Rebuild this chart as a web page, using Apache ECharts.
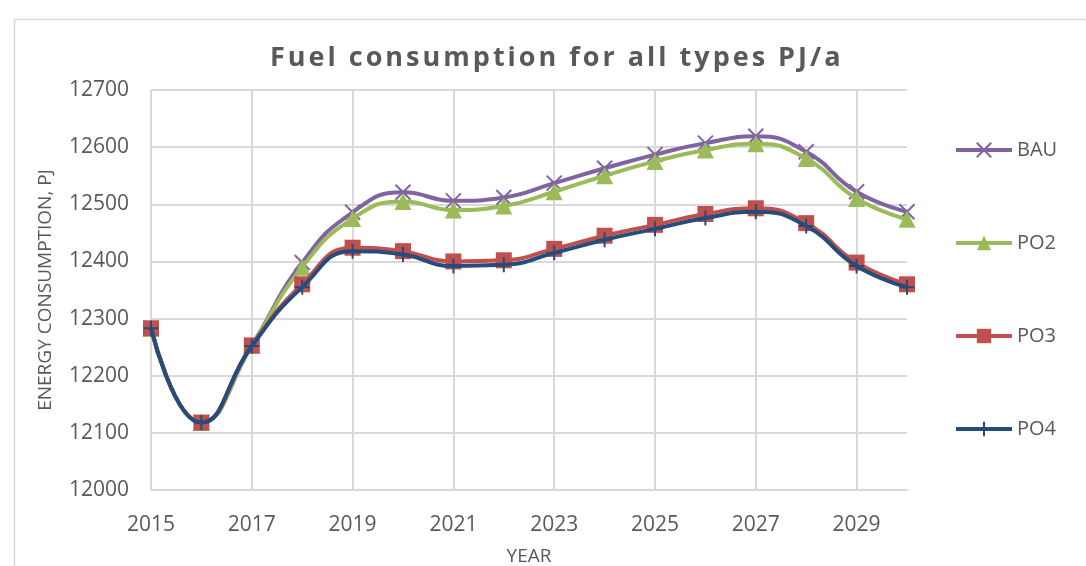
<!DOCTYPE html>
<html>
<head>
<meta charset="utf-8">
<script src="https://cdn.jsdelivr.net/npm/echarts@6/dist/echarts.min.js"></script>
<style>
html,body{margin:0;padding:0;background:#fff;}
#c{width:1086px;height:566px;}
</style>
</head>
<body>
<div id="c"></div>
<script>
var years = ['2015','2016','2017','2018','2019','2020','2021','2022','2023','2024','2025','2026','2027','2028','2029','2030'];
var BAU = [12283, 12118, 12253, 12398, 12486, 12521, 12506, 12512, 12537, 12563, 12587, 12607, 12619, 12592, 12522, 12487];
var PO2 = [12283, 12118, 12253, 12390, 12475, 12505, 12490, 12497, 12522, 12550, 12575, 12595, 12606, 12580, 12510, 12474];
var PO3 = [12283, 12118, 12253, 12360, 12424, 12418, 12400, 12402, 12422, 12445, 12464, 12483, 12493, 12467, 12398, 12360];
var PO4 = [12283, 12118, 12252, 12355, 12418, 12412, 12392, 12394, 12415, 12438, 12457, 12476, 12487, 12462, 12392, 12355];
var seriesNames = ['BAU','PO2','PO3','PO4'];
var titleText = 'Fuel consumption for all types PJ/a';
var yName = 'ENERGY CONSUMPTION, PJ';
var xName = 'YEAR';

// letter spacing for the bold title text (canvas 2D letterSpacing)
(function(){
  var proto = CanvasRenderingContext2D.prototype;
  var orig = proto.fillText;
  proto.fillText = function(t, x, y, m){
    var bold = /bold|700/.test(this.font);
    try { this.letterSpacing = bold ? '3px' : '0px'; } catch(e) {}
    var r = (m === undefined) ? orig.call(this, t, x, y) : orig.call(this, t, x, y, m);
    try { this.letterSpacing = '0px'; } catch(e) {}
    return r;
  };
})();

var FONT = '"Open Sans", "Noto Sans", sans-serif';
var TXT = '#595959';
var GRID = '#D9D9D9';
var crossPath = 'path://M0,0L10,10M10,0L0,10';
var plusPath = 'path://M5,0L5,10M0,5L10,5';

function mk(name, data, color, symbol, size, z, stroke) {
  return {
    name: name, type: 'line', data: data, smooth: 0.5, z: z,
    symbol: symbol, symbolSize: size,
    lineStyle: {color: color, width: 4},
    itemStyle: stroke ? {color: 'none', borderColor: color, borderWidth: 2} : {color: color, borderColor: color, borderWidth: 0},
    emphasis: {disabled: true}
  };
}

var chart = echarts.init(document.getElementById('c'), null, {renderer: 'canvas'});
chart.setOption({
  animation: false,
  backgroundColor: '#fff',
  title: {
    text: titleText, left: 265, top: 40,
    textStyle: {fontFamily: FONT, fontSize: 27, fontWeight: 'bold', color: TXT}
  },
  graphic: [{
    type: 'rect', left: 12, top: 17, silent: true,
    shape: {width: 1200, height: 700},
    style: {fill: 'none', stroke: GRID, lineWidth: 1.5}
  }],
  legend: {
    orient: 'vertical', left: 949, top: 135, itemGap: 73,
    itemWidth: 56, itemHeight: 18,
    lineStyle: {width: 4},
    textStyle: {fontFamily: FONT, fontSize: 20, color: TXT},
    data: seriesNames
  },
  grid: {left: 151, right: 179, top: 90, bottom: 76, containLabel: false, outerBoundsMode: 'none'},
  xAxis: {
    type: 'category', data: years, boundaryGap: false,
    name: xName, nameLocation: 'middle', nameGap: 57,
    nameTextStyle: {fontFamily: FONT, fontSize: 19, color: TXT},
    axisLine: {show: true, lineStyle: {color: GRID, width: 2}},
    axisTick: {show: false},
    axisLabel: {interval: 1, margin: 25, fontFamily: FONT, fontSize: 21, color: TXT},
    splitLine: {show: true, interval: 1, lineStyle: {color: GRID, width: 2}}
  },
  yAxis: {
    type: 'value', min: 12000, max: 12700, interval: 100,
    name: yName, nameLocation: 'middle', nameGap: 96, nameRotate: 90,
    nameTextStyle: {fontFamily: FONT, fontSize: 19, color: TXT},
    axisLine: {show: false}, axisTick: {show: false},
    axisLabel: {margin: 22, fontFamily: FONT, fontSize: 21, color: TXT,
      formatter: function(v){ return String(v); }},
    splitLine: {show: true, lineStyle: {color: GRID, width: 2}}
  },
  series: [
    mk('BAU', BAU, '#8064A2', crossPath, 15, 2, true),
    mk('PO2', PO2, '#9BBB59', 'triangle', 17, 3, false),
    mk('PO3', PO3, '#C0504D', 'rect', 16, 4, false),
    mk('PO4', PO4, '#254C7A', plusPath, 15, 5, true)
  ]
});
</script>
</body>
</html>
